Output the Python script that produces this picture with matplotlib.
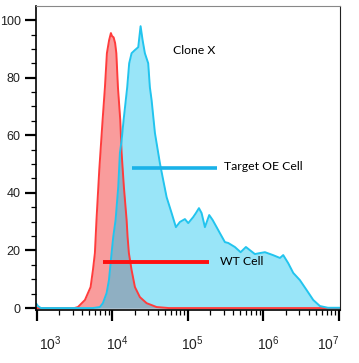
import matplotlib
matplotlib.use("Agg")
import matplotlib.pyplot as plt
import matplotlib.transforms as mtransforms
from matplotlib.ticker import LogLocator, MultipleLocator, NullFormatter
import numpy as np

plt.rcParams['font.family'] = ['Liberation Sans', 'DejaVu Sans']
plt.rcParams['mathtext.default'] = 'regular'

# WT cell histogram (log10 intensity, count)
wt_log10 = [2.99, 3.50, 3.547, 3.64, 3.715, 3.746, 3.772, 3.793, 3.83, 3.874, 3.905,
            3.931, 3.96, 3.984, 3.998, 4.02, 4.04, 4.056, 4.077, 4.108, 4.126, 4.156,
            4.192, 4.205, 4.222, 4.258, 4.302, 4.368, 4.457, 4.589, 4.75, 7.02]
wt_count = [0, 0, 0.35, 2.8, 7.3, 13.2, 19.1, 30.6, 48, 65.3, 76.7,
            88.5, 93, 95.5, 94.5, 94, 92, 88.5, 76.7, 65.3, 53.8, 42,
            30.6, 24.7, 19.1, 13.2, 7.3, 3.8, 1.7, 0.35, 0, 0]

# Target OE cell histogram (clone X)
oe_log10 = [2.99, 3.0, 3.017, 3.057, 3.746, 3.838, 3.878, 3.927, 3.958, 3.993, 4.015,
            4.046, 4.081, 4.103, 4.126, 4.152, 4.2, 4.226, 4.258, 4.302, 4.346, 4.377,
            4.404, 4.434, 4.478, 4.5, 4.523, 4.567, 4.633, 4.677, 4.722, 4.788, 4.845,
            4.898, 4.964, 5.008, 5.074, 5.11, 5.15, 5.185, 5.229, 5.286, 5.331, 5.384,
            5.428, 5.494, 5.538, 5.626, 5.702, 5.772, 5.825, 5.891, 5.958, 6.024, 6.13,
            6.223, 6.266, 6.332, 6.399, 6.487, 6.576, 6.664, 6.752, 6.858, 7.02]
oe_count = [1.5, 1.4, 0.7, 0, 0, 0.35, 1.7, 5.2, 9.7, 19.1, 24.7,
            30.6, 42, 53.8, 58.3, 65.3, 76.7, 85, 88.5, 89.6, 90.6, 97.9,
            93, 88.5, 85, 76.7, 72.2, 60.8, 50.3, 44.4, 38.5, 33, 28.1,
            29.9, 30.9, 29.5, 31.6, 33, 34.7, 33, 28.1, 32.3, 30.6, 28.1,
            26, 22.9, 22.6, 21.2, 19.4, 21.2, 20.1, 18.75, 19.1, 19.4, 18.4,
            17.4, 18.4, 15.6, 12.2, 9.7, 6.25, 2.8, 0.7, 0.1, 0.1]

x_ticks = [1e3, 1e4, 1e5, 1e6, 1e7]
x_ticklabels = ['$10^{3}$', '$10^{4}$', '$10^{5}$', '$10^{6}$', '$10^{7}$']
y_ticks = [0, 20, 40, 60, 80, 100]

# legend-like annotations
oe_label = 'Target OE Cell'
wt_label = 'WT Cell'
title_label = 'Clone X'
oe_bar = ([1.845e4, 2.47e5], 48.5)
wt_bar = ([7.48e3, 1.93e5], 16.0)

wt_x = 10 ** np.array(wt_log10)
oe_x = 10 ** np.array(oe_log10)
wt_y = np.array(wt_count)
oe_y = np.array(oe_count)

# overlap region (min of both curves on shared grid)
grid = np.union1d(wt_log10, oe_log10)
ov = np.minimum(np.interp(grid, wt_log10, wt_count), np.interp(grid, oe_log10, oe_count))

fig = plt.figure(figsize=(3.59, 3.63), dpi=100)
ax = fig.add_axes([36 / 359, (363 - 309.5) / 363, (340 - 36) / 359, (309.5 - 6) / 363])

red_fill = '#f99c9c'
blue_fill = '#99e5f8'
ax.fill_between(wt_x, 0, wt_y, color=red_fill, lw=0)
ax.fill_between(oe_x, 0, oe_y, color=blue_fill, lw=0)
ax.plot(wt_x, wt_y, color='#ff3c3c', lw=1.4)
ax.fill_between(10 ** grid, 0, ov, color='#8ea6b9', alpha=0.85, lw=0)
ax.plot(oe_x, oe_y, color='#22c4ee', lw=1.4)

ax.plot(oe_bar[0], [oe_bar[1]] * 2, color='#1ab2e8', lw=2.6, solid_capstyle='butt')
ax.plot(wt_bar[0], [wt_bar[1]] * 2, color='#ff1010', lw=2.8, solid_capstyle='butt')

lbl_font = ['Lato', 'DejaVu Sans']
ax.text(3.06e5, 49.3, oe_label, fontsize=8.8, family=lbl_font, ha='left', va='center')
ax.text(2.68e5, 16.3, wt_label, fontsize=8.8, family=lbl_font, ha='left', va='center')
ax.text(6.38e4, 89.6, title_label, fontsize=8.8, family=lbl_font, ha='left', va='center')

ax.set_xscale('log')
ax.set_xlim(10 ** 2.992, 10 ** 7.018)
ax.set_ylim(-0.5, 104.9)

ax.set_xticks(x_ticks)
ax.set_xticklabels(x_ticklabels, fontsize=10)
ax.xaxis.set_minor_locator(LogLocator(base=10, subs=np.arange(2, 10)))
ax.xaxis.set_minor_formatter(NullFormatter())
ax.set_yticks(y_ticks)
ax.yaxis.set_minor_locator(MultipleLocator(5))
ax.tick_params(axis='y', labelsize=9, labelcolor='#222222')
ax.tick_params(axis='x', labelcolor='#222222')

ax.tick_params(which='major', length=8, width=1.6, color='black')
ax.tick_params(which='minor', length=3.5, width=0.9, color='black')
ax.tick_params(axis='x', which='major', pad=10)
ax.tick_params(axis='y', which='major', pad=3)

# nudge the x labels the way they sit in the original
shifts = [14, 5, 5, 5, -10]
for lab, dx in zip(ax.get_xticklabels(), shifts):
    lab.set_transform(lab.get_transform() + mtransforms.ScaledTranslation(dx / 100, 0, fig.dpi_scale_trans))

ax.spines['top'].set_color('#888888')
ax.spines['right'].set_color('#222222')
ax.spines['left'].set_linewidth(1.2)
ax.spines['bottom'].set_linewidth(1.2)

fig.savefig('out.png', dpi=100)
